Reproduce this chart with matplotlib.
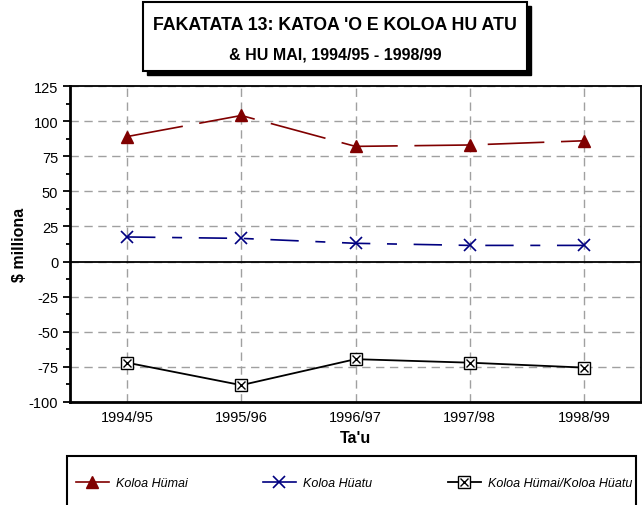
import matplotlib
matplotlib.use("Agg")
import matplotlib.pyplot as plt
from matplotlib.patches import Rectangle
from matplotlib.lines import Line2D
from matplotlib.legend_handler import HandlerTuple

# data ($ millions)
years = ["1994/95", "1995/96", "1996/97", "1997/98", "1998/99"]
humai = [89, 104, 82, 83, 86]
huatu = [17.5, 16.5, 13, 11.5, 11.5]
balance = [-72, -88, -69.5, -72, -75.5]

yticks = [-100, -75, -50, -25, 0, 25, 50, 75, 100, 125]

plt.rcParams['font.family'] = ['Liberation Sans', 'DejaVu Sans']

fig = plt.figure(figsize=(6.42, 5.06), dpi=100)
ax = fig.add_axes([70/642, 1-403/506, 571/642, 316/506])

x = list(range(len(years)))

red = "#800000"
blue = "#000080"

ax.grid(True, color="#a0a0a0", linestyle=(0, (6, 4)), linewidth=1)
ax.set_axisbelow(True)
ax.axhline(0, color="black", linewidth=1.3, zorder=2)

l1, = ax.plot(x, humai, color=red, linewidth=1.2, marker="^", markersize=8.5,
              markerfacecolor=red, markeredgecolor=red, zorder=3)
l1.set_dashes([34, 10])
l2, = ax.plot(x, huatu, color=blue, linewidth=1.2, marker="x", markersize=8,
              markeredgewidth=1.2, zorder=3)
l2.set_dashes([17, 10, 6, 10])
l3, = ax.plot(x, balance, color="black", linewidth=1.3, marker="s", markersize=8,
              markerfacecolor="white", markeredgecolor="black", zorder=3)
l3x, = ax.plot(x, balance, linestyle="none", marker="x", markersize=6,
               markeredgecolor="black", markeredgewidth=1, zorder=4)

ax.set_xlim(-0.5, len(years) - 0.5)
ax.set_ylim(-100, 125)
ax.set_xticks(x)
ax.set_xticklabels(years, fontsize=10.5)
ax.set_yticks(yticks)
ax.set_yticklabels([str(v) for v in yticks], fontsize=10.5)
ax.set_yticks([v + 12.5 for v in yticks[:-1]], minor=True)
ax.tick_params(axis="x", length=0, pad=6)
ax.tick_params(axis="y", which="major", length=5, width=1.3, direction="out")
ax.tick_params(axis="y", which="minor", length=3, width=1.3, direction="out")
for s in ax.spines.values():
    s.set_linewidth(1.3)
ax.spines["left"].set_linewidth(2)
ax.spines["bottom"].set_linewidth(2)

ax.set_ylabel(r"\$ milliona", fontsize=11.5, fontweight="bold", labelpad=1)
ax.set_xlabel("Ta'u", fontsize=11.5, fontweight="bold", labelpad=4)

# title box with drop shadow
bx0, bx1 = 143/642, 527/642
by0, by1 = 1-72/506, 1-3/506
fig.patches.append(Rectangle((bx0 + 4/642, by0 - 4/506), bx1-bx0, by1-by0,
                             transform=fig.transFigure, facecolor="black",
                             edgecolor="black", zorder=1))
fig.patches.append(Rectangle((bx0, by0), bx1-bx0, by1-by0,
                             transform=fig.transFigure, facecolor="white",
                             edgecolor="black", linewidth=1.5, zorder=2))
fig.text(335/642, 1-26/506, "FAKATATA 13: KATOA 'O E KOLOA HU ATU",
         ha="center", va="center", fontsize=12.8, fontweight="bold")
fig.text(335/642, 1-55/506, "& HU MAI, 1994/95 - 1998/99",
         ha="center", va="center", fontsize=11.5, fontweight="bold")

# legend box
fig.patches.append(Rectangle((67/642, -0.02), 569/642, 1-457/506 + 0.02,
                             transform=fig.transFigure, facecolor="white",
                             edgecolor="black", linewidth=1.5))

h1 = Line2D([], [], color=red, linewidth=1.2, marker="^", markersize=8.5,
            markerfacecolor=red, markeredgecolor=red)
h2 = Line2D([], [], color=blue, linewidth=1.2, marker="x", markersize=8,
            markeredgewidth=1.2)
h3 = Line2D([], [], color="black", linewidth=1.3, marker="s", markersize=8,
            markerfacecolor="white", markeredgecolor="black")
h3x = Line2D([], [], linestyle="none", marker="x", markersize=6,
             markeredgecolor="black")
lfont = {"family": ['Liberation Sans', 'DejaVu Sans'], "style": "italic", "size": 9}
entries = [((h1,), "Koloa Hümai", 76), ((h2,), "Koloa Hüatu", 263),
           ((h3, h3x), "Koloa Hümai/Koloa Hüatu", 448)]
for hs, lab, px in entries:
    fig.legend([hs], [lab], loc="center left", bbox_to_anchor=(px/642, 1-484/506),
               frameon=False, prop=lfont, handlelength=2.6, handletextpad=0.6,
               borderaxespad=0, borderpad=0,
               handler_map={tuple: HandlerTuple(ndivide=1)})

fig.savefig("out.png", dpi=100)
